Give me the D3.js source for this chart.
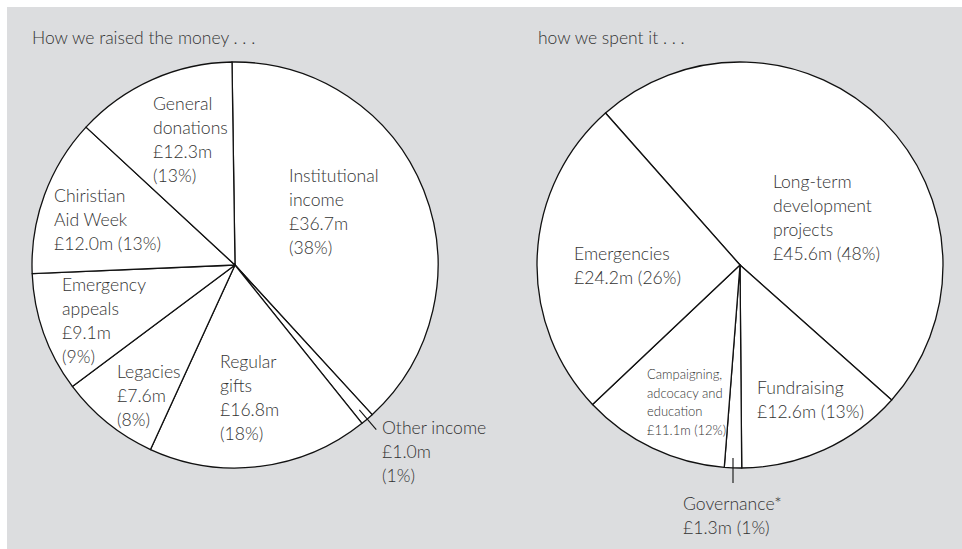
<!DOCTYPE html>
<html>
<head>
<meta charset="utf-8">
<script src="https://cdn.jsdelivr.net/npm/d3@7"></script>
<style>
  body { margin: 0; background: #fff; }
  text { font-family: Lato, "Open Sans", sans-serif; font-weight: 300; fill: #333; }
</style>
</head>
<body>
<svg id="chart"></svg>
<script>
// income side
const incomeNames = ["Institutional|income", "Other income", "Regular|gifts", "Legacies",
  "Emergency|appeals", "Chiristian|Aid Week", "General|donations"];
const incomeValues = [36.7, 1.0, 16.8, 7.6, 9.1, 12.0, 12.3];
const incomePercents = [38, 1, 18, 8, 9, 13, 13];

// spending side
const spendNames = ["Long-term|development|projects", "Fundraising", "Governance*",
  "Campaigning,|adcocacy and|education", "Emergencies"];
const spendValues = [45.6, 12.6, 1.3, 11.1, 24.2];
const spendPercents = [48, 13, 1, 12, 26];

const titles = ["How we raised the money . . .", "how we spent it . . ."];

const width = 962, height = 549;
const svg = d3.select("#chart").attr("width", width).attr("height", height);

svg.append("rect")
  .attr("x", 7).attr("y", 7)
  .attr("width", width - 7).attr("height", height - 7)
  .attr("fill", "#dcdddf");

// label layout: offset of first line from pie centre, money+pct on one line?, font size
const incomeLayout = [
  { dx: 54, dy: -90, inline: false },
  { dx: 147, dy: 162, inline: false, leader: true },
  { dx: -15, dy: 96, inline: false },
  { dx: -118, dy: 106, inline: false },
  { dx: -173, dy: 19, inline: false },
  { dx: -181, dy: -70, inline: true },
  { dx: -82, dy: -162, inline: false },
];
const spendLayout = [
  { dx: 33, dy: -84, inline: true },
  { dx: 17, dy: 122, inline: true },
  { dx: -57, dy: 238, inline: true, leader: true },
  { dx: -93, dy: 109, inline: true, small: true },
  { dx: -166, dy: -12, inline: true },
];

function drawPie(cx, cy, r, names, values, percents, layout, startDeg, title, titleX) {
  const g = svg.append("g").attr("transform", `translate(${cx},${cy})`);
  const start = startDeg * Math.PI / 180;
  const pie = d3.pie().sort(null).value(d => d)
    .startAngle(start).endAngle(start + 2 * Math.PI);
  const arc = d3.arc().innerRadius(0).outerRadius(r);
  const arcs = pie(values);

  g.selectAll("path")
    .data(arcs)
    .join("path")
    .attr("d", arc)
    .attr("fill", "#fff")
    .attr("stroke", "#111")
    .attr("stroke-width", 1.3)
    .attr("stroke-linejoin", "round");

  arcs.forEach((a, i) => {
    const lay = layout[i];
    const lines = names[i].split("|");
    const money = "£" + values[i].toFixed(1) + "m";
    const pct = "(" + percents[i] + "%)";
    if (lay.inline) lines.push(money + " " + pct);
    else lines.push(money, pct);

    const fs = lay.small ? 13 : 17.6;
    const lh = lay.small ? 18.5 : 24;
    const t = g.append("text")
      .attr("x", lay.dx).attr("y", lay.dy)
      .attr("font-size", fs);
    lines.forEach((l, k) => {
      t.append("tspan")
        .attr("x", lay.dx)
        .attr("y", lay.dy + k * lh)
        .attr("dominant-baseline", "central")
        .text(l);
    });

    if (lay.leader) {
      const mid = (a.startAngle + a.endAngle) / 2;
      if (names[i] === "Other income") {
        // diagonal leader across the thin slice
        const p1 = d3.pointRadial(mid, r - 12), p2 = d3.pointRadial(mid, r + 14);
        g.append("line").attr("x1", p1[0]).attr("y1", p1[1]).attr("x2", p2[0]).attr("y2", p2[1])
          .attr("stroke", "#111").attr("stroke-width", 1.1);
      } else {
        const p = d3.pointRadial(mid, r - 10);
        g.append("line").attr("x1", -7).attr("y1", p[1]).attr("x2", -7).attr("y2", r + 15)
          .attr("stroke", "#111").attr("stroke-width", 1.1);
      }
    }
  });

  svg.append("text")
    .attr("x", titleX).attr("y", 37)
    .attr("dominant-baseline", "central")
    .attr("font-size", 17.5)
    .text(title);
}

drawPie(235, 265, 203, incomeNames, incomeValues, incomePercents, incomeLayout, -0.85, titles[0], 32);
drawPie(740, 265, 203, spendNames, spendValues, spendPercents, spendLayout, -41.5, titles[1], 538);
</script>
</body>
</html>
